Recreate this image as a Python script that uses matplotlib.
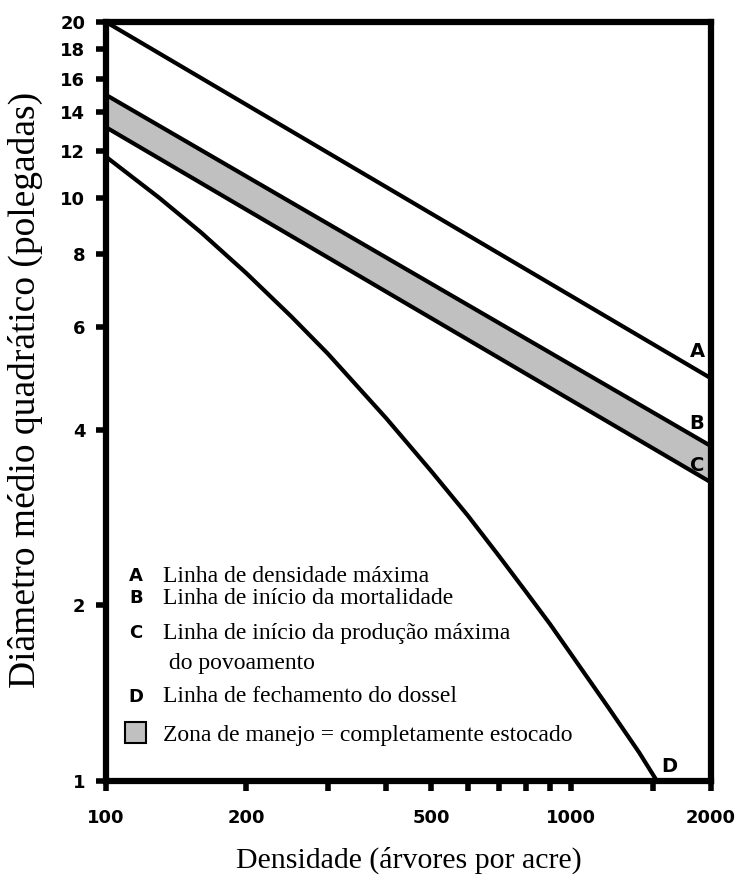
import matplotlib
matplotlib.use("Agg")
import matplotlib.pyplot as plt
from matplotlib.patches import Rectangle
from matplotlib.ticker import FixedLocator, NullFormatter

# line end points (trees per acre -> quadratic mean diameter, inches)
density_ends = [100, 2000]
line_a = [20.0, 4.9]
line_b = [15.0, 3.75]
line_c = [13.2, 3.25]

# canopy closure curve
density_d = [100, 130, 160, 200, 250, 300, 400, 500, 600, 700, 800, 900,
             1000, 1200, 1400, 1530]
line_d = [11.75, 10.0, 8.72, 7.43, 6.26, 5.40, 4.19, 3.40, 2.85, 2.43, 2.11,
          1.86, 1.65, 1.34, 1.12, 1.0]

x_ticks = [100, 200, 500, 1000, 2000]
x_minor = [300, 400, 600, 700, 800, 900, 1500]
y_ticks = [1, 2, 4, 6, 8, 10, 12, 14, 16, 18, 20]

legend_letters = ["A", "B", "C", "", "D"]
legend_texts = [
    "Linha de densidade máxima",
    "Linha de início da mortalidade",
    "Linha de início da produção máxima",
    " do povoamento",
    "Linha de fechamento do dossel",
]
zone_text = "Zona de manejo = completamente estocado"

serif = "Liberation Serif"
sans = "DejaVu Sans"

fig = plt.figure(figsize=(7.43, 8.81), dpi=100)
ax = fig.add_axes([0.1427, 0.1135, 0.957 - 0.1427, 0.975 - 0.1135])
ax.set_xscale("log")
ax.set_yscale("log")
ax.set_xlim(100, 2000)
ax.set_ylim(1, 20)

ax.fill_between(density_ends, line_c, line_b, color="#c0c0c0", lw=0)
for vals in (line_a, line_b, line_c):
    ax.plot(density_ends, vals, color="black", lw=3)
ax.plot(density_d, line_d, color="black", lw=3)

# curve labels
lab = dict(fontfamily=sans, fontweight="bold", fontsize=14,
           ha="center", va="center")
ax.text(1866, 5.44, "A", **lab)
ax.text(1866, 4.10, "B", **lab)
ax.text(1866, 3.48, "C", **lab)
ax.text(1630, 1.06, "D", **lab)

# axes style
for s in ax.spines.values():
    s.set_linewidth(4.5)
ax.xaxis.set_major_locator(FixedLocator(x_ticks))
ax.xaxis.set_minor_locator(FixedLocator(x_minor))
ax.xaxis.set_minor_formatter(NullFormatter())
ax.set_xticklabels([str(v) for v in x_ticks])
ax.yaxis.set_major_locator(FixedLocator(y_ticks))
ax.yaxis.set_minor_locator(FixedLocator([]))
ax.set_yticklabels([str(v) for v in y_ticks])
ax.tick_params(which="both", direction="out", length=7, width=4,
               labelsize=13, pad=8)
for lbl in ax.get_xticklabels() + ax.get_yticklabels():
    lbl.set_fontfamily(sans)
    lbl.set_fontweight("bold")
ax.tick_params(axis="x", pad=13)

ax.set_xlabel("Densidade (árvores por acre)", fontfamily=serif,
              fontsize=21.5)
ax.set_ylabel("Diâmetro médio quadrático (polegadas)", fontfamily=serif,
              fontsize=27)
ax.xaxis.set_label_coords(0.5, -0.086)
ax.yaxis.set_label_coords(-0.104, 0.515)

# legend block inside the plot
y_rows = [576, 598, 633, 663, 697]
for letter, text, yp in zip(legend_letters, legend_texts, y_rows):
    yf = 1 - yp / 881
    if letter:
        fig.text(136 / 743, yf, letter, fontfamily=sans, fontweight="bold",
                 fontsize=13, ha="center", va="center")
    fig.text(163 / 743, yf, text, fontfamily=serif, fontsize=17,
             ha="left", va="center")
fig.patches.append(Rectangle((125 / 743, 1 - 743 / 881), 21 / 743, 21 / 881,
                             transform=fig.transFigure, facecolor="#c0c0c0",
                             edgecolor="black", lw=1.5))
fig.text(163 / 743, 1 - 735 / 881, zone_text, fontfamily=serif,
         fontsize=17, ha="left", va="center")

fig.savefig("out.png", dpi=100)
